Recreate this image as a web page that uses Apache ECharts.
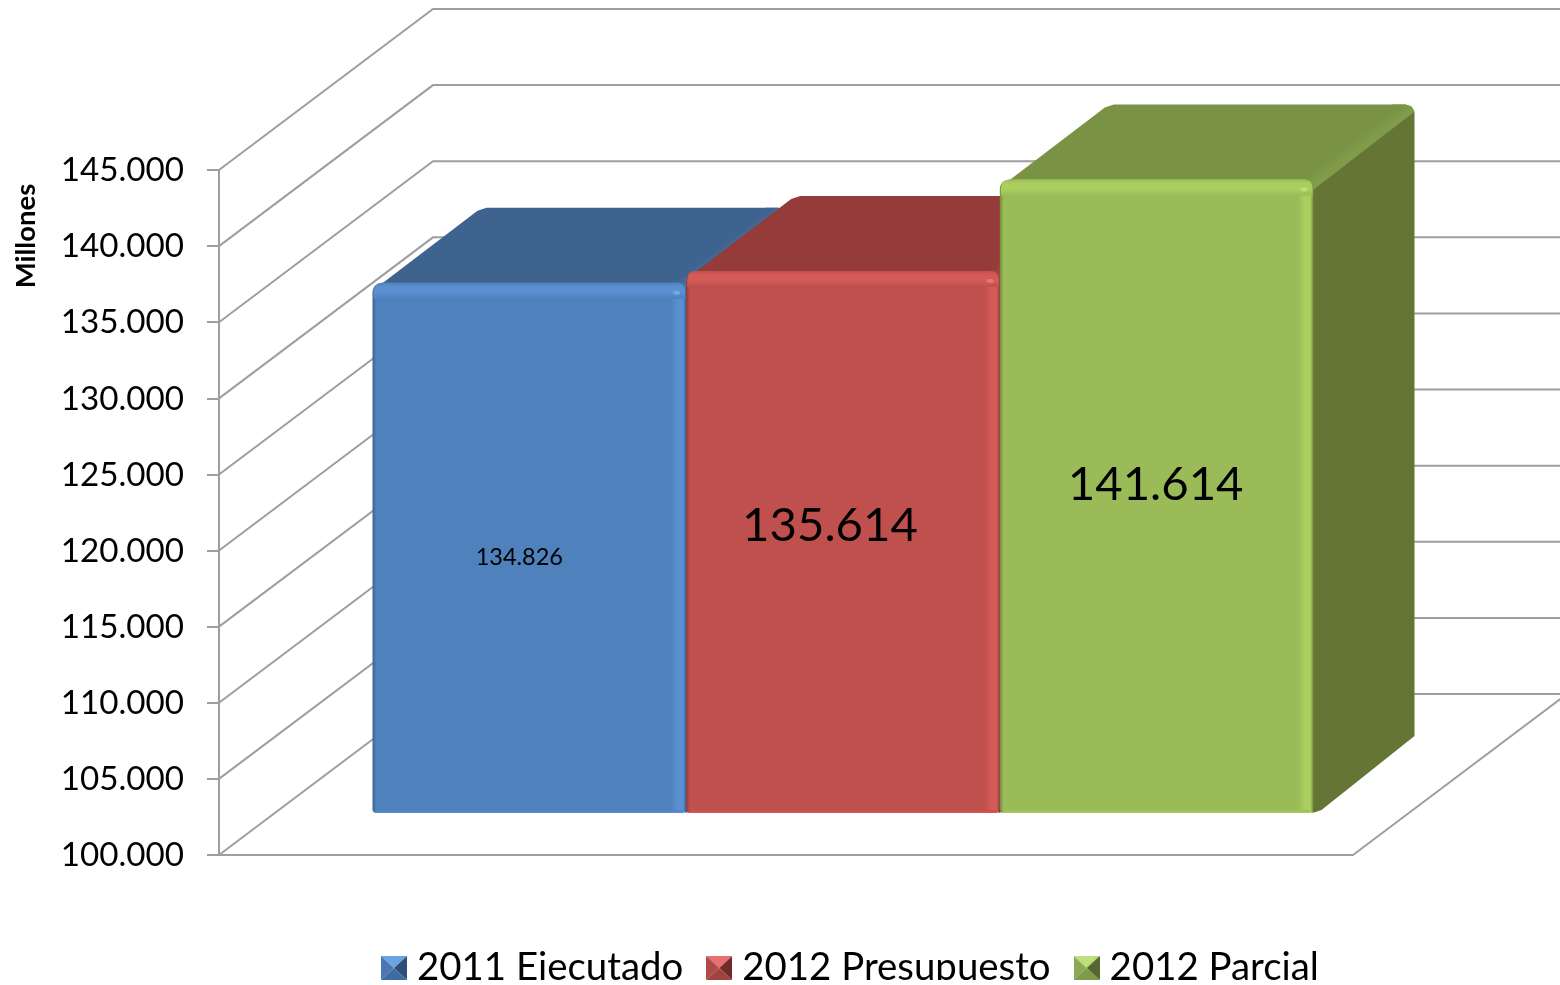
<!DOCTYPE html>
<html>
<head>
<meta charset="utf-8">
<style>html,body{margin:0;padding:0;background:#fff;overflow:hidden}#c{width:1560px;height:980px}</style>
<script src="https://cdn.jsdelivr.net/npm/echarts@6/dist/echarts.min.js"></script>
</head>
<body>
<div id="c"></div>
<script>
// ---- data ----
const categories = [''];
const seriesNames = ['2011 Ejecutado', '2012 Presupuesto', '2012 Parcial'];
const ejecutado2011 = [134826];
const presupuesto2012 = [135614];
const parcial2012 = [141614];
const axisTicks = [100000, 105000, 110000, 115000, 120000, 125000, 130000, 135000, 140000, 145000];

// ---- styling ----
const FONT = 'Lato, "Open Sans", sans-serif';
const GRID = '#9e9e9e';
const WALL = {dx: 214, dy: 161};      // depth of the 3D box
const FRONT = {dx: 57, dy: 42};       // offset of the bar front plane
const BAR = {dx: 101, dy: 75};        // depth of a bar
const BAR_SHARE = 0.2766;             // bar width as a share of the category band
const palette = [
  {front:'#4F81BD', top:'#3F638F', side:'#3A5C88', hi:'#5A8FD0', edge:'#3B6396', streak:'#4A74A8', spot:'#8FC0F0',
   icon:['#6BA3E0','#4A78AE','#2E4E7A','#3E6BA0']},
  {front:'#C0504D', top:'#953B39', side:'#8A3634', hi:'#D45A57', edge:'#8F3B39', streak:'#A34341', spot:'#F09590',
   icon:['#E87070','#B0494A','#6E2C2A','#A04240']},
  {front:'#9BBB59', top:'#799244', side:'#647536', hi:'#ABCE60', edge:'#6F8B3E', streak:'#809C4A', spot:'#D3F08A',
   icon:['#BEE07A','#8DA852','#556630','#7F9A48']}
];
const labelStyle = [
  {size: 23.5, ox: -10, oy: 9},
  {size: 47.3, ox: -13, oy: -16},
  {size: 47.3, ox: -1,  oy: -12}
];

const fmt = v => String(v).replace(/\B(?=(\d{3})+$)/g, '.');

function hGrad(stops){return {type:'linear',x:0,y:0,x2:1,y2:0,colorStops:stops.map(s=>({offset:s[0],color:s[1]}))};}
function vGrad(stops){return {type:'linear',x:0,y:0,x2:0,y2:1,colorStops:stops.map(s=>({offset:s[0],color:s[1]}))};}

function renderWalls(params, api){
  const v = api.value(1);
  const p = api.coord([0, v]);
  const cs = params.coordSys;
  const left = cs.x, right = cs.x + cs.width, y = p[1];
  const style = {stroke: GRID, lineWidth: 2, fill: null};
  const children = [{type:'polyline', shape:{points:[[left,y],[left+WALL.dx,y-WALL.dy],[right+WALL.dx,y-WALL.dy]]}, style, silent:true}];
  if (params.dataIndex === 0) {
    children.push({type:'line', shape:{x1:right,y1:y,x2:right+WALL.dx,y2:y-WALL.dy}, style, silent:true});
  }
  return {type:'group', children};
}

function makeBarRenderer(idx){
  return function(params, api){
    const c = palette[idx], ls = labelStyle[idx];
    const v = api.value(1);
    const band = api.size([1,0])[0];
    const w = band * BAR_SHARE;
    const center = api.coord([0, v])[0] + FRONT.dx + (idx-1)*w;
    const x0 = center - w/2, x1 = center + w/2;
    const yT = api.coord([0, v])[1] - FRONT.dy;
    const yB = api.coord([0, axisTicks[0]])[1] - FRONT.dy;
    const bx = BAR.dx, by = BAR.dy;
    const ch = [];
    // right side
    ch.push({type:'polygon', shape:{points:[[x1-1,yT+10],[x1+bx-2,yT-by+6],[x1+bx,yT-by+8],[x1+bx,yB-by-2],[x1+8,yB-3],[x1-1,yB]]}, style:{fill:c.side}});
    // top face
    ch.push({type:'polygon', shape:{points:[[x0,yT+8],[x0+bx+4,yT-by+3],[x0+bx+13,yT-by],[x1+bx-9,yT-by],[x1+bx-3,yT-by+2],[x1+bx,yT-by+7],[x1,yT+10]]}, style:{fill:c.top}});
    // lighter streak along the right edge of the top face
    ch.push({type:'polygon', shape:{points:[[x1-14,yT+1],[x1+bx-22,yT-by],[x1+bx-9,yT-by],[x1+bx-3,yT-by+2],[x1+bx,yT-by+7],[x1,yT+10]]},
      style:{fill:{type:'linear',global:true,x:x1-14,y:yT+1,x2:x1-4.6,y2:yT+13.5,colorStops:[{offset:0,color:c.top},{offset:0.65,color:c.streak},{offset:1,color:c.streak}]}}});
    // front face
    ch.push({type:'rect', shape:{x:x0,y:yT,width:x1-x0,height:yB-yT,r:[9,9,4,4]},
      style:{fill:hGrad([[0,c.edge],[0.012,c.front],[0.95,c.front],[0.972,c.hi],[0.99,c.hi],[1,c.edge]])}});
    // top bevel
    ch.push({type:'rect', shape:{x:x0+1,y:yT,width:x1-x0-2,height:16,r:[9,9,0,0]},
      style:{fill:vGrad([[0,c.front],[0.25,c.hi],[0.6,c.hi],[1,c.front]])}});
    // highlight spot in the corner of the bevel
    ch.push({type:'rect', shape:{x:x1-13,y:yT+8,width:7,height:4,r:2}, style:{fill:c.spot,opacity:0.5}});
    // bottom bevel
    ch.push({type:'rect', shape:{x:x0+4,y:yB-3,width:x1-x0-8,height:3}, style:{fill:vGrad([[0,c.front],[1,c.hi]])}});
    // value label
    ch.push({type:'text', style:{text:fmt(v), x:center+ls.ox, y:(yT+yB)/2+ls.oy, align:'center', verticalAlign:'middle',
      fill:'#000', font:ls.size+'px '+FONT}});
    return {type:'group', children:ch};
  };
}

function legendIcon(c){
  const cv = document.createElement('canvas');
  cv.width = 26; cv.height = 24;
  const g = cv.getContext('2d');
  const tri = (pts,col)=>{g.fillStyle=col;g.beginPath();pts.forEach((p,i)=>i?g.lineTo(p[0],p[1]):g.moveTo(p[0],p[1]));g.closePath();g.fill();};
  const apex = [13,12];
  tri([[0,0],[26,0],apex], c.icon[0]);
  tri([[0,0],apex,[0,24]], c.icon[1]);
  tri([[26,0],apex,[26,24]], c.icon[2]);
  tri([[0,24],[26,24],apex], c.icon[3]);
  return 'image://' + cv.toDataURL('image/png');
}

const barValues = [ejecutado2011, presupuesto2012, parcial2012];

const chart = echarts.init(document.getElementById('c'), null, {renderer:'canvas', width:1560, height:980});
chart.setOption({
  animation: false,
  backgroundColor: '#ffffff',
  textStyle: {fontFamily: FONT},
  grid: {left: 219, right: 207, top: 170, height: 685},
  legend: {
    left: 381, top: 947.5, orient:'horizontal', padding: 0, itemWidth: 26, itemHeight: 24, itemGap: 23,
    data: seriesNames.map((n,i)=>({name:n, icon:legendIcon(palette[i])})),
    textStyle: {fontFamily: FONT, fontSize: 38.4, lineHeight: 38, color:'#000', padding:[0,0,3,5]},
    selectedMode: false
  },
  tooltip: {show:false},
  xAxis: {
    type:'category', data: categories,
    axisLine:{show:true,lineStyle:{color:GRID,width:2}},
    axisTick:{show:false}, axisLabel:{show:false}, splitLine:{show:false}
  },
  yAxis: {
    type:'value', min: axisTicks[0], max: axisTicks[axisTicks.length-1], interval: 5000,
    axisLine:{show:true,lineStyle:{color:GRID,width:2}},
    axisTick:{show:true,length:12,lineStyle:{color:GRID,width:2}},
    axisLabel:{show:true,margin:35,formatter:fmt,color:'#000',fontFamily:FONT,fontSize:33.2,lineHeight:37,verticalAlign:'top',padding:[-18,0,0,0]},
    splitLine:{show:false}
  },
  graphic: [{
    type:'text', rotation: Math.PI/2, x: 26, y: 236, z: 10,
    style:{text:'Millones', align:'center', verticalAlign:'middle', fill:'#000', fontFamily:FONT, fontWeight:'bold', fontSize:27.5}
  }],
  series: [
    {type:'custom', name:'__walls', renderItem: renderWalls, data: axisTicks.map(t=>[0,t]), encode:{x:0,y:1}, silent:true, clip:false, z:1}
  ].concat(barValues.map((vals,i)=>({
    type:'custom', name: seriesNames[i], renderItem: makeBarRenderer(i),
    data: vals.map((v,k)=>[k,v]), encode:{x:0,y:1}, itemStyle:{color:palette[i].front}, clip:false, z:2+i
  })))
});
</script>
</body>
</html>
